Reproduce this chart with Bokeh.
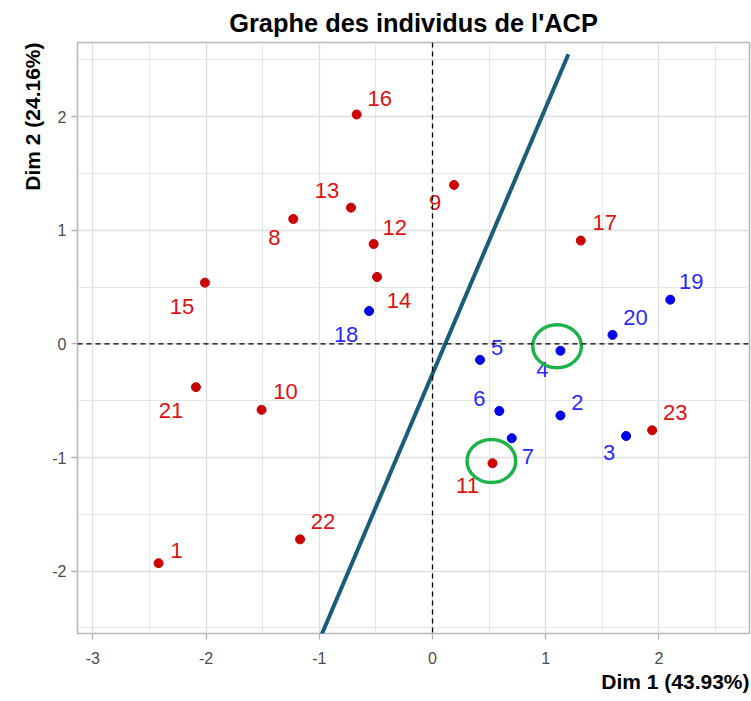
from bokeh.plotting import figure
from bokeh.models import ColumnDataSource, FixedTicker, Span, Title, Range1d
from bokeh.embed import file_html
from bokeh.resources import INLINE

# ---- data ----
ids = ["1", "2", "3", "4", "5", "6", "7", "8", "9", "10", "11", "12",
       "13", "14", "15", "16", "17", "18", "19", "20", "21", "22", "23"]
dim1 = [-2.42, 1.13, 1.71, 1.13, 0.42, 0.59, 0.70, -1.23, 0.19, -1.51, 0.53, -0.52,
        -0.72, -0.49, -2.01, -0.67, 1.31, -0.56, 2.10, 1.59, -2.09, -1.17, 1.94]
dim2 = [-1.93, -0.63, -0.81, -0.06, -0.14, -0.59, -0.83, 1.10, 1.40, -0.58, -1.05, 0.88,
        1.20, 0.59, 0.54, 2.02, 0.91, 0.29, 0.39, 0.08, -0.38, -1.72, -0.76]
group = ["r", "b", "b", "b", "b", "b", "b", "r", "r", "r", "r", "r",
         "r", "r", "r", "r", "r", "b", "b", "b", "r", "r", "r"]

x_ticks = [-3, -2, -1, 0, 1, 2]
y_ticks = [-2, -1, 0, 1, 2]
x_minor = [-2.5, -1.5, -0.5, 0.5, 1.5, 2.5]
y_minor = [-2.5, -1.5, -0.5, 0.5, 1.5, 2.5]

sep_x = [-1.01, 1.20]
sep_y = [-2.63, 2.55]

circ_x = [1.10, 0.52]
circ_y = [-0.02, -1.03]

title_text = "Graphe des individus de l'ACP"
xlabel = "Dim 1 (43.93%)"
ylabel = "Dim 2 (24.16%)"

# ---- styles (label offsets in screen px) ----
label_dx = [18, 17, -17, -18, 17, -20, 16, -19, -19, 24, -25, 21,
            -24, 22, -23, 23, 24, -23, 21, 23, -25, 23, 23]
label_dy = [-13, -13, 17, 19, -12, -12, 18, 18, 18, -18, 22, -17,
            -17, 24, 24, -16, -18, 23, -18, -17, 23, -18, -18]
pt_col = {"r": "#cc0000", "b": "#0000ee"}
lb_col = {"r": "#dd1111", "b": "#2a2aff"}

src = ColumnDataSource(dict(
    x=dim1, y=dim2, t=ids,
    pc=[pt_col[g] for g in group],
    lc=[lb_col[g] for g in group],
    dx=label_dx, dy=label_dy,
))

FONT = "Liberation Sans"

W, H = 751, 701
BL, BR, BT, BB = 77, 2, 42, 68

p = figure(width=W, height=H, output_backend="svg", toolbar_location=None,
           x_range=Range1d(-3.136, 2.80), y_range=Range1d(-2.549, 2.654),
           min_border_left=BL, min_border_right=BR, min_border_top=BT, min_border_bottom=BB)

p.title = Title(text=title_text, align="center", text_font=FONT, text_font_size="25.4px",
                text_font_style="bold", text_color="black", standoff=12)
p.add_layout(Title(text=xlabel, align="right", text_font=FONT, text_font_size="21px",
                   text_font_style="bold", text_color="black", standoff=3), "below")
p.add_layout(Title(text=ylabel, align="right", text_font=FONT, text_font_size="21px",
                   text_font_style="bold", text_color="black", standoff=11), "left")

p.background_fill_color = "white"
p.border_fill_color = "white"
p.outline_line_color = "#b8b8b8"
p.outline_line_width = 1.6

p.xaxis.ticker = FixedTicker(ticks=x_ticks, minor_ticks=x_minor)
p.yaxis.ticker = FixedTicker(ticks=y_ticks, minor_ticks=y_minor)
p.xaxis.major_label_overrides = {t: str(t) for t in x_ticks}
p.yaxis.major_label_overrides = {t: str(t) for t in y_ticks}
for ax in (p.xaxis, p.yaxis):
    ax.axis_line_color = None
    ax.major_tick_in = 0
    ax.major_tick_out = 6
    ax.major_tick_line_color = "#b3b3b3"
    ax.major_tick_line_width = 1.3
    ax.minor_tick_line_color = None
    ax.major_label_text_font = FONT
    ax.major_label_text_font_size = "16px"
    ax.major_label_text_color = "#4d4d4d"
p.xaxis.major_label_standoff = 12
p.yaxis.major_label_standoff = 5

for g in (p.xgrid, p.ygrid):
    g.grid_line_color = "#dedede"
    g.grid_line_width = 1.3
    g.minor_grid_line_color = "#e6e6e6"
    g.minor_grid_line_width = 1.0

p.add_layout(Span(location=0, dimension="height", line_color="black",
                  line_dash="5 4", line_width=1.3))
p.add_layout(Span(location=0, dimension="width", line_color="black",
                  line_dash="5 4", line_width=1.3))

p.scatter("x", "y", source=src, size=9, fill_color="pc", line_color="pc")
p.text("x", "y", text="t", source=src, x_offset="dx", y_offset="dy",
       text_color="lc", text_font_size="22px", text_align="center",
       text_baseline="middle", text_font={"value": FONT})

p.line(sep_x, sep_y, line_color="#1a5c7a", line_width=4)
p.ellipse(circ_x, circ_y, width=0.43, height=0.38, fill_color=None,
          line_color="#1db34b", line_width=3.5)

open("out.html", "w").write(file_html(p, INLINE))
